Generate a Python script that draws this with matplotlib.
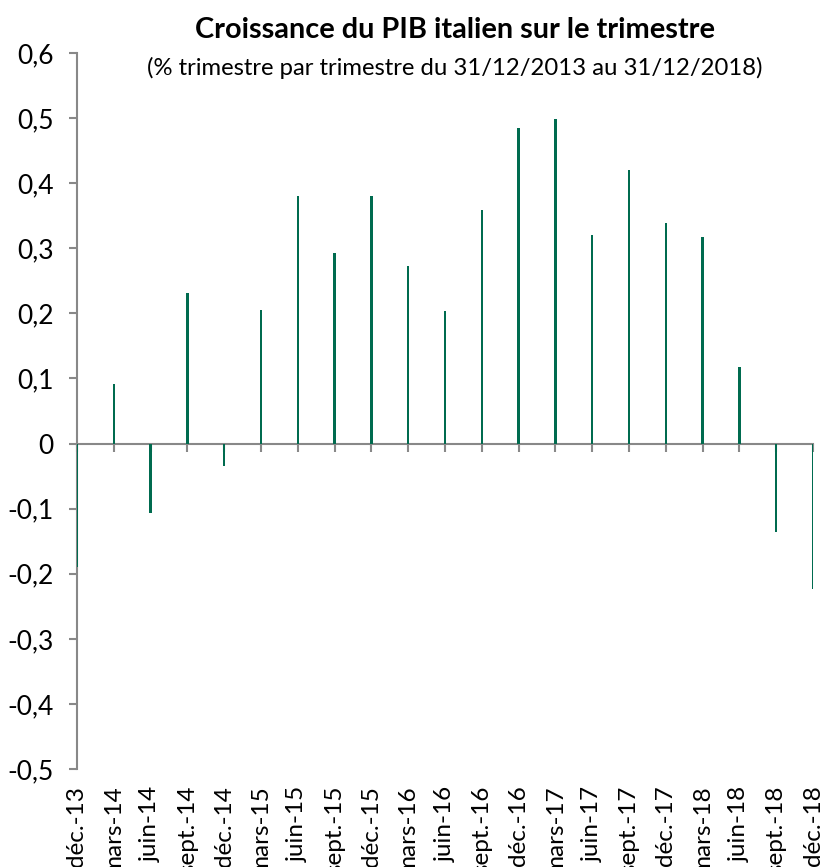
import matplotlib
matplotlib.use("Agg")
import matplotlib.pyplot as plt
import matplotlib.transforms as mtransforms
from matplotlib.ticker import FuncFormatter

plt.rcParams['font.family'] = ['Lato', 'DejaVu Sans']

categories = ["déc.-13", "mars-14", "juin-14", "sept.-14", "déc.-14", "mars-15", "juin-15",
              "sept.-15", "déc.-15", "mars-16", "juin-16", "sept.-16", "déc.-16", "mars-17",
              "juin-17", "sept.-17", "déc.-17", "mars-18", "juin-18", "sept.-18", "déc.-18"]
values = [-0.189, 0.092, -0.106, 0.232, -0.034, 0.205, 0.381, 0.293, 0.380, 0.272, 0.204,
          0.359, 0.485, 0.499, 0.321, 0.420, 0.339, 0.317, 0.117, -0.136, -0.224]
yticks = [-0.5, -0.4, -0.3, -0.2, -0.1, 0.0, 0.1, 0.2, 0.3, 0.4, 0.5, 0.6]

title = "Croissance du PIB italien sur le trimestre"
subtitle = "(% trimestre par trimestre du 31/12/2013 au 31/12/2018)"

W, H = 826, 867
fig = plt.figure(figsize=(W / 100, H / 100), dpi=100)
ax = fig.add_axes([77 / W, 1 - 769 / H, (813 - 77) / W, (769 - 53) / H])

bar_color = "#006B4F"
axis_color = "#888888"

x = list(range(len(categories)))
ax.bar(x, values, width=0.07, color=bar_color, zorder=3)

ax.set_xlim(0, len(categories) - 1)
ax.set_ylim(yticks[0], yticks[-1])
ax.set_yticks(yticks)
ax.yaxis.set_major_formatter(FuncFormatter(
    lambda v, p: "0" if abs(v) < 1e-9 else f"{v:.1f}".replace(".", ",")))

for s in ["top", "right"]:
    ax.spines[s].set_visible(False)
ax.spines["bottom"].set_position(("data", 0))
ax.spines["bottom"].set_color(axis_color)
ax.spines["left"].set_color(axis_color)
ax.spines["bottom"].set_linewidth(1.5)
ax.spines["left"].set_linewidth(1.5)

ax.set_xticks(x)
ax.set_xticklabels([])
ax.tick_params(axis="x", direction="out", length=6, width=1.5, color=axis_color)
ax.tick_params(axis="y", direction="out", length=6, width=1.5, color=axis_color,
               labelsize=19, pad=11, labelcolor="black")

trans = mtransforms.blended_transform_factory(ax.transData, ax.transAxes)
offset = mtransforms.ScaledTranslation(0, -12 / 72, fig.dpi_scale_trans)
for xi, lab in zip(x, categories):
    ax.text(xi, 0, lab, transform=trans + offset, rotation=90, ha="center", va="top",
            fontsize=17.5, color="black")

fig.text(455 / W, 1 - 30 / H, title, ha="center", va="center", fontsize=20.8,
         fontweight="bold")
fig.text(455 / W, 1 - 68 / H, subtitle, ha="center", va="center", fontsize=17.2)

fig.savefig("out.png", dpi=100)
